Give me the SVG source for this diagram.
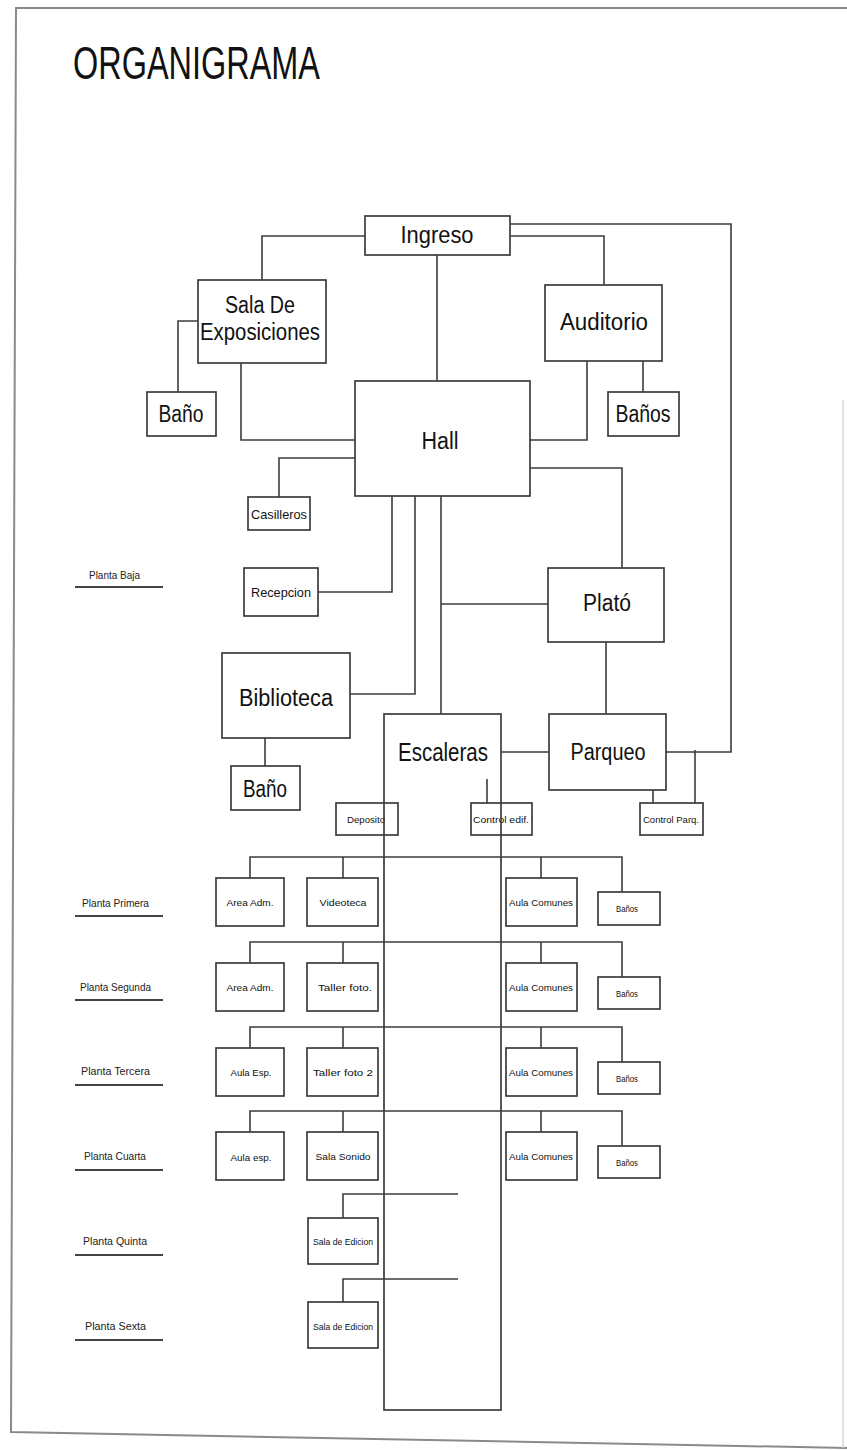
<svg xmlns="http://www.w3.org/2000/svg" width="847" height="1450" viewBox="0 0 847 1450">
  <style>
    .page { fill: none; stroke: #8a8a8a; stroke-width: 2; }
    .ln { fill: none; stroke: #3c3c3c; stroke-width: 1.6; }
    .box { fill: #ffffff; stroke: #3c3c3c; stroke-width: 1.7; }
    .stair { fill: none; stroke: #3c3c3c; stroke-width: 1.7; }
    .t { font-family: "Liberation Sans Narrow", "Liberation Sans", sans-serif; fill: #111; text-anchor: middle; dominant-baseline: central; }
    .big { font-size: 23px; }
    .mid { font-size: 13px; }
    .sm { font-size: 9px; }
    .lab { font-family: "Liberation Sans Narrow", "Liberation Sans", sans-serif; fill: #222; font-size: 11px; }
    .ul { stroke: #444; stroke-width: 2; }
  </style>

  <rect width="847" height="1450" fill="#ffffff"/>

  <!-- sheet edges -->
  <g id="sheet">
    <polyline class="page" points="847,8 16,8 11,1432 847,1448"/>
    <line x1="843" y1="400" x2="843" y2="1448" stroke="#d6d6d6" stroke-width="1.5"/>
  </g>

  <text id="title" x="73" y="79" font-family="'Liberation Sans Narrow','Liberation Sans',sans-serif" font-size="46" fill="#111" textLength="247" lengthAdjust="spacingAndGlyphs">ORGANIGRAMA</text>

  <!-- floor labels -->
  <g id="floor-labels">
    <text class="lab" x="89" y="579" textLength="51" lengthAdjust="spacingAndGlyphs">Planta Baja</text>
    <line class="ul" x1="75" y1="587" x2="163" y2="587"/>
    <text class="lab" x="82" y="907" textLength="67" lengthAdjust="spacingAndGlyphs">Planta Primera</text>
    <line class="ul" x1="75" y1="916" x2="163" y2="916"/>
    <text class="lab" x="80" y="991" textLength="71" lengthAdjust="spacingAndGlyphs">Planta Segunda</text>
    <line class="ul" x1="75" y1="1000" x2="163" y2="1000"/>
    <text class="lab" x="81" y="1075" textLength="69" lengthAdjust="spacingAndGlyphs">Planta Tercera</text>
    <line class="ul" x1="75" y1="1085" x2="163" y2="1085"/>
    <text class="lab" x="84" y="1160" textLength="62" lengthAdjust="spacingAndGlyphs">Planta Cuarta</text>
    <line class="ul" x1="75" y1="1170" x2="163" y2="1170"/>
    <text class="lab" x="83" y="1245" textLength="64" lengthAdjust="spacingAndGlyphs">Planta Quinta</text>
    <line class="ul" x1="75" y1="1255" x2="163" y2="1255"/>
    <text class="lab" x="85" y="1330" textLength="61" lengthAdjust="spacingAndGlyphs">Planta Sexta</text>
    <line class="ul" x1="75" y1="1340" x2="163" y2="1340"/>
  </g>

  <!-- connectors -->
  <g id="connectors">
    <polyline class="ln" points="365,236 262,236 262,280"/>
    <polyline class="ln" points="510,236 604,236 604,285"/>
    <polyline class="ln" points="510,224 731,224 731,752 666,752"/>
    <line class="ln" x1="437" y1="255" x2="437" y2="381"/>
    <polyline class="ln" points="198,321 178,321 178,392"/>
    <polyline class="ln" points="241,363 241,440 355,440"/>
    <polyline class="ln" points="587,361 587,440 530,440"/>
    <line class="ln" x1="643" y1="361" x2="643" y2="392"/>
    <polyline class="ln" points="355,458 279,458 279,497"/>
    <polyline class="ln" points="530,468 622,468 622,568"/>
    <polyline class="ln" points="392,496 392,592 318,592"/>
    <polyline class="ln" points="415,496 415,694 350,694"/>
    <line class="ln" x1="441" y1="496" x2="441" y2="714"/>
    <line class="ln" x1="441" y1="604" x2="548" y2="604"/>
    <line class="ln" x1="606" y1="642" x2="606" y2="714"/>
    <line class="ln" x1="501" y1="752" x2="549" y2="752"/>
    <line class="ln" x1="265" y1="738" x2="265" y2="766"/>
    <line class="ln" x1="487" y1="779" x2="487" y2="803"/>
    <line class="ln" x1="653" y1="778" x2="653" y2="803"/>
    <line class="ln" x1="695" y1="750" x2="695" y2="803"/>

    <!-- Planta Primera -->
    <polyline class="ln" points="250,878 250,857 622,857 622,892"/>
    <line class="ln" x1="343" y1="857" x2="343" y2="878"/>
    <line class="ln" x1="541" y1="857" x2="541" y2="878"/>
    <!-- Planta Segunda -->
    <polyline class="ln" points="250,963 250,942 622,942 622,977"/>
    <line class="ln" x1="343" y1="942" x2="343" y2="963"/>
    <line class="ln" x1="541" y1="942" x2="541" y2="963"/>
    <!-- Planta Tercera -->
    <polyline class="ln" points="250,1048 250,1027 622,1027 622,1062"/>
    <line class="ln" x1="343" y1="1027" x2="343" y2="1048"/>
    <line class="ln" x1="541" y1="1027" x2="541" y2="1048"/>
    <!-- Planta Cuarta -->
    <polyline class="ln" points="250,1132 250,1111 622,1111 622,1146"/>
    <line class="ln" x1="343" y1="1111" x2="343" y2="1132"/>
    <line class="ln" x1="541" y1="1111" x2="541" y2="1132"/>
    <!-- Planta Quinta / Sexta -->
    <polyline class="ln" points="343,1218 343,1194 458,1194"/>
    <polyline class="ln" points="343,1302 343,1279 458,1279"/>
  </g>

  <!-- ground floor -->
  <g id="ingreso"><rect class="box" x="365" y="216" width="145" height="39"/><text class="t big" x="437" y="235" textLength="73" lengthAdjust="spacingAndGlyphs">Ingreso</text></g>
  <g id="sala-exposiciones"><rect class="box" x="198" y="280" width="128" height="83"/>
    <text class="t big" x="260" y="305" textLength="70" lengthAdjust="spacingAndGlyphs">Sala De</text>
    <text class="t big" x="260" y="332" textLength="120" lengthAdjust="spacingAndGlyphs">Exposiciones</text></g>
  <g id="auditorio"><rect class="box" x="545" y="285" width="117" height="76"/><text class="t big" x="604" y="322" textLength="88" lengthAdjust="spacingAndGlyphs">Auditorio</text></g>
  <g id="bano-sala"><rect class="box" x="147" y="392" width="69" height="44"/><text class="t big" x="181" y="414" textLength="45" lengthAdjust="spacingAndGlyphs">Baño</text></g>
  <g id="banos-auditorio"><rect class="box" x="608" y="392" width="71" height="44"/><text class="t big" x="643" y="414" textLength="55" lengthAdjust="spacingAndGlyphs">Baños</text></g>
  <g id="hall"><rect class="box" x="355" y="381" width="175" height="115"/><text class="t big" x="440" y="441" textLength="37" lengthAdjust="spacingAndGlyphs">Hall</text></g>
  <g id="casilleros"><rect class="box" x="248" y="497" width="62" height="33"/><text class="t mid" x="279" y="514" textLength="56" lengthAdjust="spacingAndGlyphs">Casilleros</text></g>
  <g id="recepcion"><rect class="box" x="244" y="568" width="74" height="48"/><text class="t mid" x="281" y="592" textLength="60" lengthAdjust="spacingAndGlyphs">Recepcion</text></g>
  <g id="plato"><rect class="box" x="548" y="568" width="116" height="74"/><text class="t big" x="607" y="603" textLength="48" lengthAdjust="spacingAndGlyphs">Plató</text></g>
  <g id="biblioteca"><rect class="box" x="222" y="653" width="128" height="85"/><text class="t big" x="286" y="698" textLength="94" lengthAdjust="spacingAndGlyphs">Biblioteca</text></g>
  <g id="bano-biblioteca"><rect class="box" x="231" y="766" width="69" height="44"/><text class="t big" x="265" y="789" textLength="44" lengthAdjust="spacingAndGlyphs">Baño</text></g>
  <g id="parqueo"><rect class="box" x="549" y="714" width="117" height="76"/><text class="t big" x="608" y="752" textLength="75" lengthAdjust="spacingAndGlyphs">Parqueo</text></g>
  <g id="deposito"><rect class="box" x="336" y="803" width="62" height="32"/><text class="t sm" x="366" y="820" textLength="38" lengthAdjust="spacingAndGlyphs">Deposito</text></g>
  <g id="control-edif"><rect class="box" x="471" y="803" width="61" height="32"/><text class="t sm" x="501" y="820" textLength="56" lengthAdjust="spacingAndGlyphs">Control edif.</text></g>
  <g id="control-parq"><rect class="box" x="640" y="803" width="63" height="32"/><text class="t sm" x="671" y="820" textLength="56" lengthAdjust="spacingAndGlyphs">Control Parq.</text></g>

  <!-- Planta Primera -->
  <g id="p1-area-adm"><rect class="box" x="216" y="878" width="68" height="48"/><text class="t sm" x="250" y="903" textLength="47" lengthAdjust="spacingAndGlyphs">Area Adm.</text></g>
  <g id="p1-videoteca"><rect class="box" x="307" y="878" width="71" height="48"/><text class="t sm" x="343" y="903" textLength="47" lengthAdjust="spacingAndGlyphs">Videoteca</text></g>
  <g id="p1-aula-comunes"><rect class="box" x="506" y="878" width="71" height="48"/><text class="t sm" x="541" y="903" textLength="64" lengthAdjust="spacingAndGlyphs">Aula Comunes</text></g>
  <g id="p1-banos"><rect class="box" x="598" y="892" width="62" height="33"/><text class="t sm" x="627" y="909" textLength="22" lengthAdjust="spacingAndGlyphs">Baños</text></g>

  <!-- Planta Segunda -->
  <g id="p2-area-adm"><rect class="box" x="216" y="963" width="68" height="48"/><text class="t sm" x="250" y="988" textLength="47" lengthAdjust="spacingAndGlyphs">Area Adm.</text></g>
  <g id="p2-taller-foto"><rect class="box" x="307" y="963" width="71" height="48"/><text class="t sm" x="345" y="988" textLength="54" lengthAdjust="spacingAndGlyphs">Taller foto.</text></g>
  <g id="p2-aula-comunes"><rect class="box" x="506" y="963" width="71" height="48"/><text class="t sm" x="541" y="988" textLength="64" lengthAdjust="spacingAndGlyphs">Aula Comunes</text></g>
  <g id="p2-banos"><rect class="box" x="598" y="977" width="62" height="32"/><text class="t sm" x="627" y="994" textLength="22" lengthAdjust="spacingAndGlyphs">Baños</text></g>

  <!-- Planta Tercera -->
  <g id="p3-aula-esp"><rect class="box" x="216" y="1048" width="68" height="48"/><text class="t sm" x="251" y="1073" textLength="41" lengthAdjust="spacingAndGlyphs">Aula Esp.</text></g>
  <g id="p3-taller-foto-2"><rect class="box" x="307" y="1048" width="71" height="48"/><text class="t sm" x="343" y="1073" textLength="60" lengthAdjust="spacingAndGlyphs">Taller foto 2</text></g>
  <g id="p3-aula-comunes"><rect class="box" x="506" y="1048" width="71" height="48"/><text class="t sm" x="541" y="1073" textLength="64" lengthAdjust="spacingAndGlyphs">Aula Comunes</text></g>
  <g id="p3-banos"><rect class="box" x="598" y="1062" width="62" height="32"/><text class="t sm" x="627" y="1079" textLength="22" lengthAdjust="spacingAndGlyphs">Baños</text></g>

  <!-- Planta Cuarta -->
  <g id="p4-aula-esp"><rect class="box" x="216" y="1132" width="68" height="48"/><text class="t sm" x="251" y="1158" textLength="41" lengthAdjust="spacingAndGlyphs">Aula esp.</text></g>
  <g id="p4-sala-sonido"><rect class="box" x="307" y="1132" width="71" height="48"/><text class="t sm" x="343" y="1157" textLength="55" lengthAdjust="spacingAndGlyphs">Sala Sonido</text></g>
  <g id="p4-aula-comunes"><rect class="box" x="506" y="1132" width="71" height="48"/><text class="t sm" x="541" y="1157" textLength="64" lengthAdjust="spacingAndGlyphs">Aula Comunes</text></g>
  <g id="p4-banos"><rect class="box" x="598" y="1146" width="62" height="32"/><text class="t sm" x="627" y="1163" textLength="22" lengthAdjust="spacingAndGlyphs">Baños</text></g>

  <!-- Planta Quinta / Sexta -->
  <g id="p5-sala-edicion"><rect class="box" x="308" y="1218" width="70" height="46"/><text class="t sm" x="343" y="1242" font-size="8" textLength="60" lengthAdjust="spacingAndGlyphs">Sala de Edicion</text></g>
  <g id="p6-sala-edicion"><rect class="box" x="308" y="1302" width="70" height="46"/><text class="t sm" x="343" y="1327" font-size="8" textLength="60" lengthAdjust="spacingAndGlyphs">Sala de Edicion</text></g>

  <!-- stairwell running through every floor -->
  <g id="escaleras">
    <rect class="stair" x="384" y="714" width="117" height="696"/>
    <text class="t" x="443" y="752" font-size="26" textLength="90" lengthAdjust="spacingAndGlyphs">Escaleras</text>
  </g>
</svg>
